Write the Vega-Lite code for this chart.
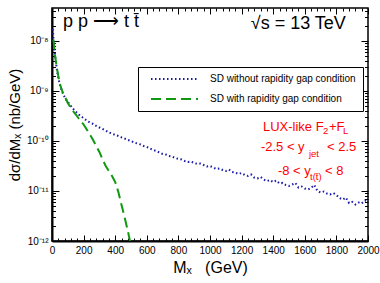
{
  "$schema": "https://vega.github.io/schema/vega-lite/v6.json",
  "autosize": {"type": "none"},
  "width": 316,
  "height": 233,
  "padding": {"left": 52, "top": 8, "right": 12, "bottom": 42},
  "background": "white",
  "config": {
    "view": {"stroke": "black", "strokeWidth": 1.5},
    "axis": {"grid": false, "labelFont": "Liberation Sans", "titleFont": "Liberation Sans", "labelColor": "black", "titleColor": "black", "tickColor": "black", "domainColor": "black", "titleFontWeight": "normal", "labelFontSize": 10, "labelFlush": false, "labelOverlap": false, "tickWidth": 1},
    "text": {"font": "Liberation Sans"}
  },
  "datasets": {
    "curves": [
      {"s": "SD without rapidity gap condition", "x": 5, "y": 1.74e-8},
      {"s": "SD without rapidity gap condition", "x": 10, "y": 1.05e-8},
      {"s": "SD without rapidity gap condition", "x": 15, "y": 7.08e-9},
      {"s": "SD without rapidity gap condition", "x": 20, "y": 5.01e-9},
      {"s": "SD without rapidity gap condition", "x": 25, "y": 3.72e-9},
      {"s": "SD without rapidity gap condition", "x": 30, "y": 2.82e-9},
      {"s": "SD without rapidity gap condition", "x": 35, "y": 2.24e-9},
      {"s": "SD without rapidity gap condition", "x": 40, "y": 1.82e-9},
      {"s": "SD without rapidity gap condition", "x": 50, "y": 1.32e-9},
      {"s": "SD without rapidity gap condition", "x": 60, "y": 1.05e-9},
      {"s": "SD without rapidity gap condition", "x": 70, "y": 8.71e-10},
      {"s": "SD without rapidity gap condition", "x": 80, "y": 7.59e-10},
      {"s": "SD without rapidity gap condition", "x": 90, "y": 6.61e-10},
      {"s": "SD without rapidity gap condition", "x": 100, "y": 6.03e-10},
      {"s": "SD without rapidity gap condition", "x": 110, "y": 5.5e-10},
      {"s": "SD without rapidity gap condition", "x": 120, "y": 5.01e-10},
      {"s": "SD without rapidity gap condition", "x": 130, "y": 4.57e-10},
      {"s": "SD without rapidity gap condition", "x": 140, "y": 4.17e-10},
      {"s": "SD without rapidity gap condition", "x": 150, "y": 3.89e-10},
      {"s": "SD without rapidity gap condition", "x": 160, "y": 3.63e-10},
      {"s": "SD without rapidity gap condition", "x": 170, "y": 3.39e-10},
      {"s": "SD without rapidity gap condition", "x": 180, "y": 3.16e-10},
      {"s": "SD without rapidity gap condition", "x": 190, "y": 3.02e-10},
      {"s": "SD without rapidity gap condition", "x": 200, "y": 2.82e-10},
      {"s": "SD without rapidity gap condition", "x": 220, "y": 2.57e-10},
      {"s": "SD without rapidity gap condition", "x": 240, "y": 2.34e-10},
      {"s": "SD without rapidity gap condition", "x": 260, "y": 2.19e-10},
      {"s": "SD without rapidity gap condition", "x": 280, "y": 2.0e-10},
      {"s": "SD without rapidity gap condition", "x": 300, "y": 1.86e-10},
      {"s": "SD without rapidity gap condition", "x": 320, "y": 1.74e-10},
      {"s": "SD without rapidity gap condition", "x": 340, "y": 1.62e-10},
      {"s": "SD without rapidity gap condition", "x": 360, "y": 1.48e-10},
      {"s": "SD without rapidity gap condition", "x": 380, "y": 1.41e-10},
      {"s": "SD without rapidity gap condition", "x": 400, "y": 1.32e-10},
      {"s": "SD without rapidity gap condition", "x": 420, "y": 1.26e-10},
      {"s": "SD without rapidity gap condition", "x": 440, "y": 1.18e-10},
      {"s": "SD without rapidity gap condition", "x": 460, "y": 1.12e-10},
      {"s": "SD without rapidity gap condition", "x": 480, "y": 1.05e-10},
      {"s": "SD without rapidity gap condition", "x": 500, "y": 1.0e-10},
      {"s": "SD without rapidity gap condition", "x": 520, "y": 9.33e-11},
      {"s": "SD without rapidity gap condition", "x": 540, "y": 8.91e-11},
      {"s": "SD without rapidity gap condition", "x": 560, "y": 8.51e-11},
      {"s": "SD without rapidity gap condition", "x": 580, "y": 7.94e-11},
      {"s": "SD without rapidity gap condition", "x": 600, "y": 7.59e-11},
      {"s": "SD without rapidity gap condition", "x": 620, "y": 7.08e-11},
      {"s": "SD without rapidity gap condition", "x": 640, "y": 6.61e-11},
      {"s": "SD without rapidity gap condition", "x": 660, "y": 6.31e-11},
      {"s": "SD without rapidity gap condition", "x": 680, "y": 5.89e-11},
      {"s": "SD without rapidity gap condition", "x": 700, "y": 5.5e-11},
      {"s": "SD without rapidity gap condition", "x": 720, "y": 5.37e-11},
      {"s": "SD without rapidity gap condition", "x": 740, "y": 5.01e-11},
      {"s": "SD without rapidity gap condition", "x": 760, "y": 4.9e-11},
      {"s": "SD without rapidity gap condition", "x": 780, "y": 4.57e-11},
      {"s": "SD without rapidity gap condition", "x": 800, "y": 4.37e-11},
      {"s": "SD without rapidity gap condition", "x": 820, "y": 4.27e-11},
      {"s": "SD without rapidity gap condition", "x": 840, "y": 3.98e-11},
      {"s": "SD without rapidity gap condition", "x": 860, "y": 3.8e-11},
      {"s": "SD without rapidity gap condition", "x": 880, "y": 3.89e-11},
      {"s": "SD without rapidity gap condition", "x": 900, "y": 3.63e-11},
      {"s": "SD without rapidity gap condition", "x": 920, "y": 3.47e-11},
      {"s": "SD without rapidity gap condition", "x": 940, "y": 3.55e-11},
      {"s": "SD without rapidity gap condition", "x": 960, "y": 3.31e-11},
      {"s": "SD without rapidity gap condition", "x": 980, "y": 3.09e-11},
      {"s": "SD without rapidity gap condition", "x": 1000, "y": 3.16e-11},
      {"s": "SD without rapidity gap condition", "x": 1020, "y": 2.95e-11},
      {"s": "SD without rapidity gap condition", "x": 1040, "y": 2.75e-11},
      {"s": "SD without rapidity gap condition", "x": 1060, "y": 2.82e-11},
      {"s": "SD without rapidity gap condition", "x": 1080, "y": 2.63e-11},
      {"s": "SD without rapidity gap condition", "x": 1100, "y": 2.51e-11},
      {"s": "SD without rapidity gap condition", "x": 1120, "y": 2.69e-11},
      {"s": "SD without rapidity gap condition", "x": 1140, "y": 2.4e-11},
      {"s": "SD without rapidity gap condition", "x": 1160, "y": 2.34e-11},
      {"s": "SD without rapidity gap condition", "x": 1180, "y": 2.19e-11},
      {"s": "SD without rapidity gap condition", "x": 1200, "y": 2.29e-11},
      {"s": "SD without rapidity gap condition", "x": 1220, "y": 2.09e-11},
      {"s": "SD without rapidity gap condition", "x": 1240, "y": 2.0e-11},
      {"s": "SD without rapidity gap condition", "x": 1260, "y": 2.14e-11},
      {"s": "SD without rapidity gap condition", "x": 1280, "y": 1.86e-11},
      {"s": "SD without rapidity gap condition", "x": 1300, "y": 1.78e-11},
      {"s": "SD without rapidity gap condition", "x": 1320, "y": 1.91e-11},
      {"s": "SD without rapidity gap condition", "x": 1340, "y": 1.7e-11},
      {"s": "SD without rapidity gap condition", "x": 1360, "y": 1.58e-11},
      {"s": "SD without rapidity gap condition", "x": 1380, "y": 1.66e-11},
      {"s": "SD without rapidity gap condition", "x": 1400, "y": 1.51e-11},
      {"s": "SD without rapidity gap condition", "x": 1420, "y": 1.62e-11},
      {"s": "SD without rapidity gap condition", "x": 1440, "y": 1.41e-11},
      {"s": "SD without rapidity gap condition", "x": 1460, "y": 1.45e-11},
      {"s": "SD without rapidity gap condition", "x": 1480, "y": 1.32e-11},
      {"s": "SD without rapidity gap condition", "x": 1500, "y": 1.26e-11},
      {"s": "SD without rapidity gap condition", "x": 1520, "y": 1.35e-11},
      {"s": "SD without rapidity gap condition", "x": 1540, "y": 1.45e-11},
      {"s": "SD without rapidity gap condition", "x": 1560, "y": 1.17e-11},
      {"s": "SD without rapidity gap condition", "x": 1580, "y": 1.23e-11},
      {"s": "SD without rapidity gap condition", "x": 1600, "y": 1.12e-11},
      {"s": "SD without rapidity gap condition", "x": 1620, "y": 1.07e-11},
      {"s": "SD without rapidity gap condition", "x": 1640, "y": 1.15e-11},
      {"s": "SD without rapidity gap condition", "x": 1660, "y": 1.32e-11},
      {"s": "SD without rapidity gap condition", "x": 1680, "y": 1.0e-11},
      {"s": "SD without rapidity gap condition", "x": 1700, "y": 9.33e-12},
      {"s": "SD without rapidity gap condition", "x": 1720, "y": 9.77e-12},
      {"s": "SD without rapidity gap condition", "x": 1740, "y": 8.91e-12},
      {"s": "SD without rapidity gap condition", "x": 1760, "y": 8.51e-12},
      {"s": "SD without rapidity gap condition", "x": 1780, "y": 9.12e-12},
      {"s": "SD without rapidity gap condition", "x": 1800, "y": 8.32e-12},
      {"s": "SD without rapidity gap condition", "x": 1820, "y": 7.24e-12},
      {"s": "SD without rapidity gap condition", "x": 1840, "y": 6.76e-12},
      {"s": "SD without rapidity gap condition", "x": 1860, "y": 7.41e-12},
      {"s": "SD without rapidity gap condition", "x": 1880, "y": 5.75e-12},
      {"s": "SD without rapidity gap condition", "x": 1900, "y": 6.03e-12},
      {"s": "SD without rapidity gap condition", "x": 1920, "y": 5.37e-12},
      {"s": "SD without rapidity gap condition", "x": 1940, "y": 5.89e-12},
      {"s": "SD without rapidity gap condition", "x": 1960, "y": 5.62e-12},
      {"s": "SD without rapidity gap condition", "x": 1980, "y": 6.46e-12},
      {"s": "SD without rapidity gap condition", "x": 2000, "y": 6.31e-12},
      {"s": "SD with rapidity gap condition", "x": 8, "y": 1.07e-8},
      {"s": "SD with rapidity gap condition", "x": 10, "y": 1.0e-8},
      {"s": "SD with rapidity gap condition", "x": 15, "y": 6.76e-9},
      {"s": "SD with rapidity gap condition", "x": 20, "y": 5.01e-9},
      {"s": "SD with rapidity gap condition", "x": 25, "y": 3.8e-9},
      {"s": "SD with rapidity gap condition", "x": 30, "y": 3.02e-9},
      {"s": "SD with rapidity gap condition", "x": 40, "y": 2.0e-9},
      {"s": "SD with rapidity gap condition", "x": 50, "y": 1.41e-9},
      {"s": "SD with rapidity gap condition", "x": 60, "y": 1.1e-9},
      {"s": "SD with rapidity gap condition", "x": 70, "y": 9.12e-10},
      {"s": "SD with rapidity gap condition", "x": 80, "y": 7.94e-10},
      {"s": "SD with rapidity gap condition", "x": 90, "y": 6.76e-10},
      {"s": "SD with rapidity gap condition", "x": 100, "y": 5.75e-10},
      {"s": "SD with rapidity gap condition", "x": 120, "y": 4.57e-10},
      {"s": "SD with rapidity gap condition", "x": 140, "y": 3.72e-10},
      {"s": "SD with rapidity gap condition", "x": 160, "y": 3.09e-10},
      {"s": "SD with rapidity gap condition", "x": 180, "y": 2.57e-10},
      {"s": "SD with rapidity gap condition", "x": 200, "y": 2.14e-10},
      {"s": "SD with rapidity gap condition", "x": 220, "y": 1.7e-10},
      {"s": "SD with rapidity gap condition", "x": 240, "y": 1.35e-10},
      {"s": "SD with rapidity gap condition", "x": 260, "y": 1.05e-10},
      {"s": "SD with rapidity gap condition", "x": 280, "y": 7.94e-11},
      {"s": "SD with rapidity gap condition", "x": 300, "y": 6.03e-11},
      {"s": "SD with rapidity gap condition", "x": 320, "y": 4.27e-11},
      {"s": "SD with rapidity gap condition", "x": 340, "y": 3.16e-11},
      {"s": "SD with rapidity gap condition", "x": 360, "y": 2.51e-11},
      {"s": "SD with rapidity gap condition", "x": 380, "y": 2.0e-11},
      {"s": "SD with rapidity gap condition", "x": 400, "y": 1.51e-11},
      {"s": "SD with rapidity gap condition", "x": 420, "y": 9.55e-12},
      {"s": "SD with rapidity gap condition", "x": 440, "y": 5.25e-12},
      {"s": "SD with rapidity gap condition", "x": 460, "y": 2.95e-12},
      {"s": "SD with rapidity gap condition", "x": 480, "y": 1.58e-12},
      {"s": "SD with rapidity gap condition", "x": 495, "y": 9.55e-13}
    ]
  },
  "resolve": {"axis": {"x": "independent", "y": "independent"}},
  "layer": [
    {
      "data": {"name": "curves"},
      "mark": {"type": "line", "strokeWidth": 2, "clip": true},
      "encoding": {
        "x": {"field": "x", "type": "quantitative", "scale": {"domain": [0, 2000], "nice": false, "zero": false},
          "axis": {"orient": "bottom", "values": [0, 200, 400, 600, 800, 1000, 1200, 1400, 1600, 1800, 2000], "format": "d", "tickSize": -6, "labelPadding": 10, "domainWidth": 2, "title": "M\u2093\u00a0\u00a0\u00a0(GeV)", "titleFontSize": 16, "titlePadding": 4}},
        "y": {"field": "y", "type": "quantitative", "scale": {"type": "log", "domain": [1e-12, 4.57e-8], "nice": false},
          "axis": {"orient": "left", "values": [1e-12, 1e-11, 1e-10, 1e-9, 1e-8], "tickSize": -7, "labelPadding": 11, "domainWidth": 2, "labelExpr": "datum.value < 5e-12 ? '10⁻¹²' : datum.value < 5e-11 ? '10⁻¹¹' : datum.value < 5e-10 ? '10⁻¹⁰' : datum.value < 5e-9 ? '10⁻⁹' : '10⁻⁸'", "title": "dσ/dM\u2093 (nb/GeV)", "titleFontSize": 15, "titlePadding": 4}},
        "color": {"field": "s", "type": "nominal",
          "scale": {"domain": ["SD without rapidity gap condition", "SD with rapidity gap condition"], "range": ["#1a1aaa", "#109910"]},
          "legend": {"title": null, "orient": "none", "legendX": 86, "legendY": 59, "symbolType": "stroke", "symbolSize": 2209, "symbolStrokeWidth": 2, "labelFontSize": 10, "labelFont": "Liberation Sans", "labelColor": "black", "fillColor": "white", "strokeColor": "black", "padding": 7, "clipHeight": 10, "rowPadding": 10, "symbolOffset": 5, "labelOffset": 11, "labelLimit": 300}},
        "strokeDash": {"field": "s", "type": "nominal",
          "scale": {"domain": ["SD without rapidity gap condition", "SD with rapidity gap condition"], "range": [[1.5, 2.5], [10, 5]]},
          "legend": {"title": null, "orient": "none", "legendX": 86, "legendY": 59, "symbolType": "stroke", "symbolSize": 2209, "symbolStrokeWidth": 2, "labelFontSize": 10, "labelFont": "Liberation Sans", "labelColor": "black", "fillColor": "white", "strokeColor": "black", "padding": 7, "clipHeight": 10, "rowPadding": 10, "symbolOffset": 5, "labelOffset": 11, "labelLimit": 300}}
      }
    },
    {
      "data": {"values": [{"x": 69, "y": 1.91e-8, "t": "p\u00a0p\u00a0\u27f6\u00a0t\u00a0t\u0304"}]},
      "mark": {"type": "text", "align": "left", "baseline": "alphabetic", "fontSize": 18, "color": "black"},
      "encoding": {
        "x": {"field": "x", "type": "quantitative", "axis": {"orient": "bottom", "values": [40, 80, 120, 160, 240, 280, 320, 360, 440, 480, 520, 560, 640, 680, 720, 760, 840, 880, 920, 960, 1040, 1080, 1120, 1160, 1240, 1280, 1320, 1360, 1440, 1480, 1520, 1560, 1640, 1680, 1720, 1760, 1840, 1880, 1920, 1960], "tickSize": -3, "labels": false, "domain": false, "title": null}},
        "y": {"field": "y", "type": "quantitative", "axis": {"orient": "left", "values": [2e-12, 3e-12, 4e-12, 5e-12, 6e-12, 7e-12, 8e-12, 9e-12, 2e-11, 3e-11, 4e-11, 5e-11, 6e-11, 7e-11, 8e-11, 9e-11, 2e-10, 3e-10, 4e-10, 5e-10, 6e-10, 7e-10, 8e-10, 9e-10, 2e-9, 3e-9, 4e-9, 5e-9, 6e-9, 7e-9, 8e-9, 9e-9, 2e-8, 3e-8, 4e-8], "tickSize": -3.5, "labels": false, "domain": false, "title": null}},
        "text": {"field": "t"}
      }
    },
    {
      "data": {"values": [{"x": 1860, "y": 1.74e-8, "t": "√s = 13 TeV"}]},
      "mark": {"type": "text", "align": "right", "baseline": "alphabetic", "fontSize": 18, "color": "black"},
      "encoding": {
        "x": {"field": "x", "type": "quantitative", "axis": {"orient": "top", "values": [0, 200, 400, 600, 800, 1000, 1200, 1400, 1600, 1800, 2000], "tickSize": -6, "labels": false, "domain": false, "title": null}},
        "y": {"field": "y", "type": "quantitative", "axis": {"orient": "right", "values": [1e-12, 1e-11, 1e-10, 1e-9, 1e-8], "tickSize": -7, "labels": false, "domain": false, "title": null}},
        "text": {"field": "t"}
      }
    },
    {
      "data": {"values": [
        {"x": 1335, "y": 1.585e-10, "t": "LUX-like F"},
        {"x": 1753, "y": 1.585e-10, "t": "+F"},
        {"x": 1322, "y": 6.31e-11, "t": "-2.5 < y"},
        {"x": 1741, "y": 6.31e-11, "t": "< 2.5"},
        {"x": 1430, "y": 2.09e-11, "t": "-8 < y"},
        {"x": 1728, "y": 2.09e-11, "t": "< 8"}
      ]},
      "mark": {"type": "text", "align": "left", "baseline": "alphabetic", "fontSize": 13, "color": "#ff0000"},
      "encoding": {
        "x": {"field": "x", "type": "quantitative", "axis": {"orient": "top", "values": [40, 80, 120, 160, 240, 280, 320, 360, 440, 480, 520, 560, 640, 680, 720, 760, 840, 880, 920, 960, 1040, 1080, 1120, 1160, 1240, 1280, 1320, 1360, 1440, 1480, 1520, 1560, 1640, 1680, 1720, 1760, 1840, 1880, 1920, 1960], "tickSize": -3, "labels": false, "domain": false, "title": null}},
        "y": {"field": "y", "type": "quantitative", "axis": {"orient": "right", "values": [2e-12, 3e-12, 4e-12, 5e-12, 6e-12, 7e-12, 8e-12, 9e-12, 2e-11, 3e-11, 4e-11, 5e-11, 6e-11, 7e-11, 8e-11, 9e-11, 2e-10, 3e-10, 4e-10, 5e-10, 6e-10, 7e-10, 8e-10, 9e-10, 2e-9, 3e-9, 4e-9, 5e-9, 6e-9, 7e-9, 8e-9, 9e-9, 2e-8, 3e-8, 4e-8], "tickSize": -3.5, "labels": false, "domain": false, "title": null}},
        "text": {"field": "t"}
      }
    },
    {
      "data": {"values": [
        {"x": 1715, "y": 1.35e-10, "t": "2"},
        {"x": 1842, "y": 1.35e-10, "t": "L"},
        {"x": 1626, "y": 4.79e-11, "t": "jet"},
        {"x": 1633, "y": 1.66e-11, "t": "t(t̄)"}
      ]},
      "mark": {"type": "text", "align": "left", "baseline": "alphabetic", "fontSize": 9.5, "color": "#ff0000"},
      "encoding": {
        "x": {"field": "x", "type": "quantitative", "axis": null},
        "y": {"field": "y", "type": "quantitative", "axis": null},
        "text": {"field": "t"}
      }
    }
  ]
}
